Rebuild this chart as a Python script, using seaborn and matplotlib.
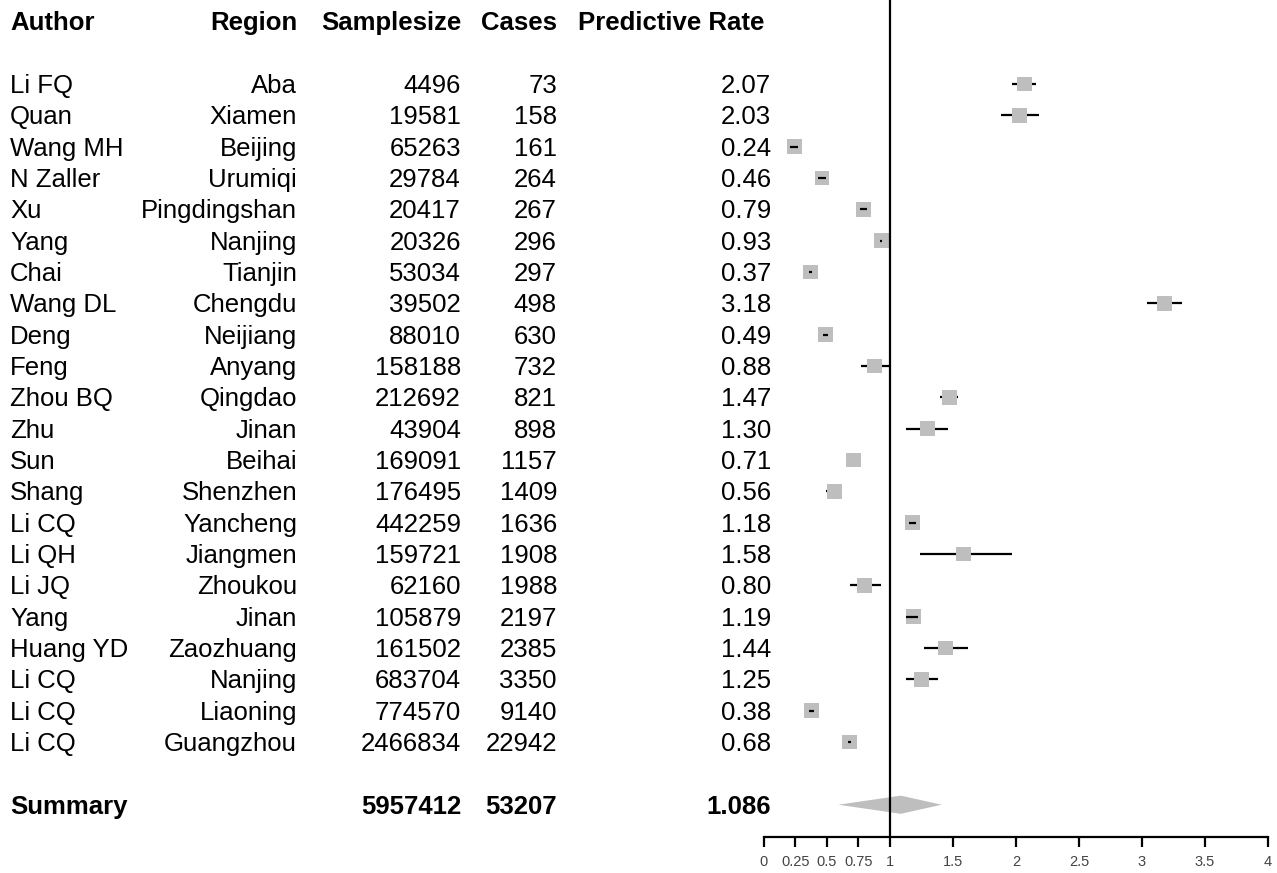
import matplotlib
matplotlib.use("Agg")
import matplotlib.pyplot as plt
import matplotlib.transforms as mtransforms
import seaborn as sns
import pandas as pd

# study data
authors = ["Li FQ", "Quan", "Wang MH", "N Zaller", "Xu", "Yang", "Chai", "Wang DL",
           "Deng", "Feng", "Zhou BQ", "Zhu", "Sun", "Shang", "Li CQ", "Li QH",
           "Li JQ", "Yang", "Huang YD", "Li CQ", "Li CQ", "Li CQ"]
regions = ["Aba", "Xiamen", "Beijing", "Urumiqi", "Pingdingshan", "Nanjing", "Tianjin",
           "Chengdu", "Neijiang", "Anyang", "Qingdao", "Jinan", "Beihai", "Shenzhen",
           "Yancheng", "Jiangmen", "Zhoukou", "Jinan", "Zaozhuang", "Nanjing",
           "Liaoning", "Guangzhou"]
sample_sizes = [4496, 19581, 65263, 29784, 20417, 20326, 53034, 39502, 88010, 158188,
                212692, 43904, 169091, 176495, 442259, 159721, 62160, 105879, 161502,
                683704, 774570, 2466834]
cases = [73, 158, 161, 264, 267, 296, 297, 498, 630, 732, 821, 898, 1157, 1409, 1636,
         1908, 1988, 2197, 2385, 3350, 9140, 22942]
rates = [2.07, 2.03, 0.24, 0.46, 0.79, 0.93, 0.37, 3.18, 0.49, 0.88, 1.47, 1.30, 0.71,
         0.56, 1.18, 1.58, 0.80, 1.19, 1.44, 1.25, 0.38, 0.68]
ci_low = [1.97, 1.88, 0.21, 0.43, 0.76, 0.92, 0.36, 3.04, 0.47, 0.77, 1.40, 1.13, 0.65,
          0.49, 1.15, 1.24, 0.68, 1.13, 1.27, 1.13, 0.36, 0.67]
ci_high = [2.16, 2.18, 0.27, 0.49, 0.82, 0.94, 0.38, 3.32, 0.51, 0.99, 1.54, 1.46, 0.77,
           0.62, 1.21, 1.97, 0.93, 1.22, 1.62, 1.38, 0.40, 0.69]

summary_sample = 5957412
summary_cases = 53207
summary_rate = 1.086
summary_low = 0.59
summary_high = 1.41

x_ticks = [0, 0.25, 0.5, 0.75, 1, 1.5, 2, 2.5, 3, 3.5, 4]
x_tick_labels = ["0", "0.25", "0.5", "0.75", "1", "1.5", "2", "2.5", "3", "3.5", "4"]

df = pd.DataFrame({"author": authors, "region": regions, "n": sample_sizes,
                   "cases": cases, "rate": rates, "lo": ci_low, "hi": ci_high})
df["row"] = range(len(df))

sns.set_theme(style="white")
plt.rcParams["font.family"] = ["Liberation Sans", "DejaVu Sans"]

W, H = 1277, 873
fig = plt.figure(figsize=(W / 100, H / 100), dpi=100)
# plot panel: x 0..4 spans pixels 764..1268, bottom spine sits at y=837 px
ax = fig.add_axes([764 / W, 36 / H, 504 / W, 1 - 36 / H])
ax.set_xlim(0, 4)
ax.set_ylim(24.03, -2.68)

summary_row = len(df) + 1
box = 0.11  # box width in data units

# confidence lines under the boxes (unless the CI is narrower than the box)
wide = df[(df["hi"] - df["lo"]) >= box]
narrow = df[(df["hi"] - df["lo"]) < box]
ax.hlines(wide["row"], wide["lo"], wide["hi"], color="black", lw=1.6, zorder=2)
sns.scatterplot(data=df, x="rate", y="row", marker="s", s=115, color="#BEBEBE",
                edgecolor="none", linewidth=0, ax=ax, zorder=3, legend=False)
ax.hlines(narrow["row"], narrow["lo"], narrow["hi"], color="black", lw=1.6, zorder=4)

# summary diamond
h = 0.29
ax.fill([summary_low, summary_rate, summary_high, summary_rate],
        [summary_row, summary_row - h, summary_row, summary_row + h],
        color="#BEBEBE", lw=0, zorder=3)

ax.axvline(1, color="black", lw=1.6, zorder=5)

for s in ["top", "right", "left"]:
    ax.spines[s].set_visible(False)
ax.spines["bottom"].set_linewidth(1.6)
ax.spines["bottom"].set_color("black")
ax.set_xticks(x_ticks)
ax.set_xticklabels(x_tick_labels)
ax.set_yticks([])
ax.tick_params(axis="x", bottom=True, direction="out", length=7, width=1.6,
               color="black", labelsize=10.5, labelcolor="#444444", pad=6)
ax.set_xlabel("")
ax.set_ylabel("")
ax.grid(False)

# table text on the left
tr = mtransforms.blended_transform_factory(fig.transFigure, ax.transData)
fs = 18.5
row_shift = 0.06  # nudge text slightly down to sit like the reference

def put(px, y, s, ha, bold=False):
    ax.text(px / W, y + row_shift, s, transform=tr, ha=ha, va="center", fontsize=fs,
            fontweight="bold" if bold else "normal", color="black", clip_on=False)

put(10, -2, "Author", "left", True)
put(297, -2, "Region", "right", True)
put(461, -2, "Samplesize", "right", True)
put(557, -2, "Cases", "right", True)
put(578, -2, "Predictive Rate", "left", True)

for _, r in df.iterrows():
    put(10, r["row"], r["author"], "left")
    put(297, r["row"], r["region"], "right")
    put(461, r["row"], str(r["n"]), "right")
    put(557, r["row"], str(r["cases"]), "right")
    put(771, r["row"], f"{r['rate']:.2f}", "right")

put(10, summary_row, "Summary", "left", True)
put(461, summary_row, str(summary_sample), "right", True)
put(557, summary_row, str(summary_cases), "right", True)
put(771, summary_row, f"{summary_rate:.3f}", "right", True)

fig.savefig("out.png", dpi=100, facecolor="white")
